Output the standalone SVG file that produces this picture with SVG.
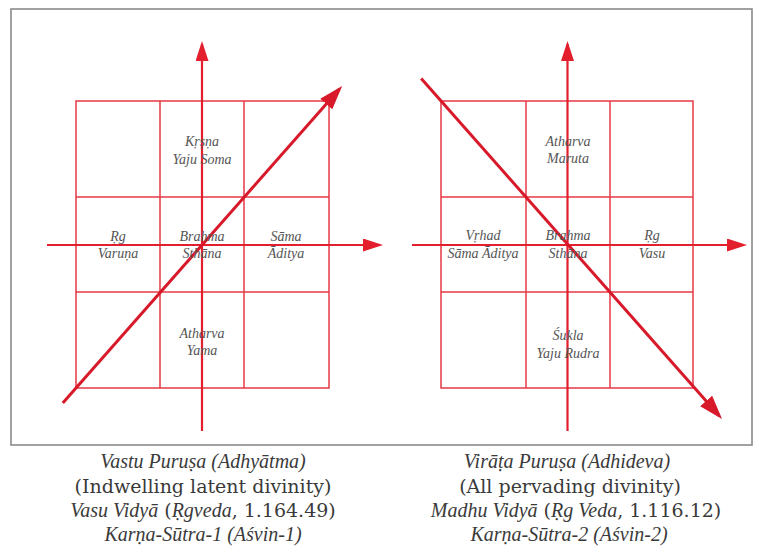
<svg xmlns="http://www.w3.org/2000/svg" width="759" height="556" viewBox="0 0 759 556">
<style>
.frame{fill:#fff;stroke:#8a8a8a;stroke-width:1.6}
.grid{fill:none;stroke:#e53945;stroke-width:1.5}
.axis{stroke:#e31e2d;stroke-width:2.2;fill:none}
.diag{stroke:#d7192a;stroke-width:3;fill:none}
.cell{font-family:"Liberation Serif",serif;font-style:italic;font-size:14px;fill:#555;text-anchor:middle}
.cap{font-family:"Liberation Serif",serif;font-size:20px;fill:#3a3a3a;text-anchor:middle}
.it{font-style:italic}
.rm{font-family:"DejaVu Serif",serif;font-size:19px}
</style>
<defs>
<marker id="ah" markerUnits="userSpaceOnUse" viewBox="0 0 20 13" markerWidth="20" markerHeight="13" refX="17" refY="6.5" orient="auto"><path d="M0,0 L20,6.5 L0,13 Z" fill="#e31e2d"/></marker>
<marker id="ahd" markerUnits="userSpaceOnUse" viewBox="0 0 24 16" markerWidth="24" markerHeight="16" refX="20" refY="8" orient="auto"><path d="M0,0 L24,8 L0,16 Z" fill="#d7192a"/></marker>
</defs>
<rect class="frame" x="11" y="9" width="741" height="436"/>
<g id="left-grid">
<rect class="grid" x="76" y="101" width="253" height="287"/>
<line class="grid" x1="160" y1="101" x2="160" y2="388"/>
<line class="grid" x1="244" y1="101" x2="244" y2="388"/>
<line class="grid" x1="76" y1="197" x2="329" y2="197"/>
<line class="grid" x1="76" y1="292" x2="329" y2="292"/>
</g>
<g id="right-grid">
<rect class="grid" x="441" y="101" width="252" height="287"/>
<line class="grid" x1="526" y1="101" x2="526" y2="388"/>
<line class="grid" x1="610" y1="101" x2="610" y2="388"/>
<line class="grid" x1="441" y1="197" x2="693" y2="197"/>
<line class="grid" x1="441" y1="292" x2="693" y2="292"/>
</g>
<g id="connectors">
<line class="axis" x1="202" y1="431" x2="202" y2="44" marker-end="url(#ah)"/>
<line class="axis" x1="47" y1="245" x2="380" y2="245" marker-end="url(#ah)"/>
<line class="axis" x1="567.5" y1="431" x2="567.5" y2="44" marker-end="url(#ah)"/>
<line class="axis" x1="412" y1="245" x2="744" y2="245" marker-end="url(#ah)"/>
<line class="diag" x1="62.8" y1="403" x2="339.5" y2="89" marker-end="url(#ahd)"/>
<line class="diag" x1="421.2" y1="78.5" x2="719.4" y2="416" marker-end="url(#ahd)"/>
</g>
<g id="left-labels">
<text class="cell" x="202" y="146">Kṛṣṇa</text>
<text class="cell" x="202" y="164">Yaju Soma</text>
<text class="cell" x="118" y="240.5">Ṛg</text>
<text class="cell" x="118" y="258">Varuṇa</text>
<text class="cell" x="202" y="240.5">Brahma</text>
<text class="cell" x="202" y="258">Sthāna</text>
<text class="cell" x="286" y="240.5">Sāma</text>
<text class="cell" x="286" y="258">Āditya</text>
<text class="cell" x="202" y="337.5">Atharva</text>
<text class="cell" x="202" y="355">Yama</text>
</g>
<g id="right-labels">
<text class="cell" x="568" y="146">Atharva</text>
<text class="cell" x="568" y="163">Maruta</text>
<text class="cell" x="483" y="240">Vṛhad</text>
<text class="cell" x="483" y="257.5">Sāma Āditya</text>
<text class="cell" x="568" y="240">Brahma</text>
<text class="cell" x="568" y="257.5">Sthāna</text>
<text class="cell" x="652" y="240">Ṛg</text>
<text class="cell" x="652" y="257.5">Vasu</text>
<text class="cell" x="568" y="339.5">Śukla</text>
<text class="cell" x="568" y="357.5">Yaju Rudra</text>
</g>
<g id="left-caption">
<text class="cap it" x="203" y="468">Vastu Puruṣa (Adhyātma)</text>
<text class="cap rm" x="203" y="493">(Indwelling latent divinity)</text>
<text class="cap" x="203" y="517"><tspan class="it">Vasu Vidyā</tspan><tspan class="rm"> (</tspan><tspan class="it">Ṛgveda</tspan><tspan class="rm">, 1.164.49)</tspan></text>
<text class="cap it" x="203" y="541">Karṇa-Sūtra-1 (Aśvin-1)</text>
</g>
<g id="right-caption">
<text class="cap it" x="567" y="468">Virāṭa Puruṣa (Adhideva)</text>
<text class="cap rm" x="570" y="493">(All pervading divinity)</text>
<text class="cap" x="576" y="517"><tspan class="it">Madhu Vidyā</tspan><tspan class="rm"> (</tspan><tspan class="it">Ṛg Veda</tspan><tspan class="rm">, 1.116.12)</tspan></text>
<text class="cap it" x="569" y="541">Karṇa-Sūtra-2 (Aśvin-2)</text>
</g>
</svg>
